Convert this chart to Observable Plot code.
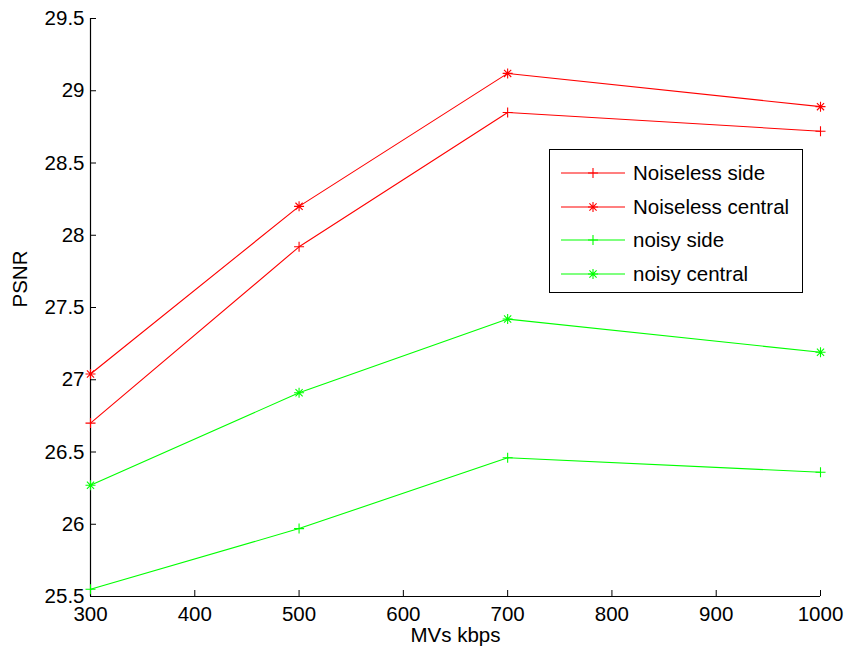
<!DOCTYPE html>
<html><head><meta charset="utf-8">
<script src="https://cdn.jsdelivr.net/npm/d3@7"></script>
<script src="https://cdn.jsdelivr.net/npm/@observablehq/plot@0.6"></script>
<style>
body{margin:0;background:#fff}
#chart{position:relative;width:847px;height:654px;font-family:"Liberation Sans",Arial,Helvetica,sans-serif}
#legend{position:absolute;left:549px;top:149px;width:254px;height:144px;border:1.5px solid #000;background:#fff;box-sizing:border-box}
.row{position:absolute;left:0;height:34px;display:flex;align-items:center;font-size:20.5px;color:#000}
.row svg{margin-left:11px;margin-right:8px}
</style>
</head><body><div id="chart"></div>
<script>
const kbps = [300, 500, 700, 1000];
const noiselessSide = [26.70, 27.92, 28.85, 28.72];
const noiselessCentral = [27.04, 28.20, 29.12, 28.89];
const noisySide = [25.55, 25.97, 26.46, 26.36];
const noisyCentral = [26.27, 26.91, 27.42, 27.19];
const seriesNames = ["Noiseless side", "Noiseless central", "noisy side", "noisy central"];
const seriesColors = ["#ff0000", "#ff0000", "#00ff00", "#00ff00"];
const seriesMarkers = ["plus", "star", "plus", "star"];
const xTicks = [300, 400, 500, 600, 700, 800, 900, 1000];
const yTicks = [25.5, 26, 26.5, 27, 27.5, 28, 28.5, 29, 29.5];

const plusSym = {draw(ctx, size) {const r = Math.sqrt(size / Math.PI);
  ctx.moveTo(-r, 0); ctx.lineTo(r, 0); ctx.moveTo(0, -r); ctx.lineTo(0, r);}};
const starSym = {draw(ctx, size) {const r = Math.sqrt(size / Math.PI); const d = r * 0.72;
  ctx.moveTo(-r, 0); ctx.lineTo(r, 0); ctx.moveTo(0, -r); ctx.lineTo(0, r);
  ctx.moveTo(-d, -d); ctx.lineTo(d, d); ctx.moveTo(-d, d); ctx.lineTo(d, -d);}};
const symbols = {plus: plusSym, star: starSym};

const allValues = [noiselessSide, noiselessCentral, noisySide, noisyCentral];
const data = [];
allValues.forEach((vals, i) => vals.forEach((v, j) => data.push({series: seriesNames[i], x: kbps[j], y: v})));

const marks = [
  Plot.ruleX([300], {stroke: "#000", strokeWidth: 1.2}),
  Plot.ruleY([25.5], {stroke: "#000", strokeWidth: 1.2}),
  Plot.axisX({ticks: xTicks, tickSize: -6, tickPadding: 16, tickFormat: d => String(d), fontSize: 20.5, label: null, stroke: "#000"}),
  Plot.axisY({ticks: yTicks, tickSize: -6, tickPadding: 12, tickFormat: d => String(d), fontSize: 20.5, label: null, stroke: "#000"}),
  Plot.text(["MVs kbps"], {frameAnchor: "bottom", dy: 45, fontSize: 20.5, fill: "#000"}),
  Plot.text(["PSNR"], {frameAnchor: "left", dx: -70, rotate: -90, fontSize: 20.5, fill: "#000"})
];
seriesNames.forEach((name, i) => {
  const d = data.filter(r => r.series === name);
  marks.push(Plot.line(d, {x: "x", y: "y", stroke: seriesColors[i], strokeWidth: 1.1}));
  marks.push(Plot.dot(d, {x: "x", y: "y", stroke: seriesColors[i], fill: "none", r: 5, strokeWidth: 1.1, symbol: symbols[seriesMarkers[i]]}));
});

const chart = Plot.plot({
  width: 847, height: 654,
  marginLeft: 90, marginRight: 27, marginTop: 18, marginBottom: 58,
  style: {fontFamily: '"Liberation Sans", Arial, Helvetica, sans-serif', fontSize: "20.5px", color: "#000", background: "#fff"},
  x: {domain: [300, 1000]},
  y: {domain: [25.5, 29.5]},
  marks
});
const root = document.getElementById("chart");
root.appendChild(chart);

const legend = document.createElement("div");
legend.id = "legend";
seriesNames.forEach((name, i) => {
  const row = document.createElement("div");
  row.className = "row";
  row.style.top = (6 + i * 33.7) + "px";
  const svg = d3.create("svg").attr("width", 64).attr("height", 14);
  svg.append("line").attr("x1", 0).attr("x2", 64).attr("y1", 7).attr("y2", 7).attr("stroke", seriesColors[i]).attr("stroke-width", 1.1);
  svg.append("path").attr("transform", "translate(32,7)")
    .attr("d", d3.symbol(symbols[seriesMarkers[i]], 25 * Math.PI)())
    .attr("stroke", seriesColors[i]).attr("fill", "none").attr("stroke-width", 1.1);
  row.appendChild(svg.node());
  const span = document.createElement("span");
  span.textContent = name;
  row.appendChild(span);
  legend.appendChild(row);
});
root.appendChild(legend);
</script>
</body></html>
